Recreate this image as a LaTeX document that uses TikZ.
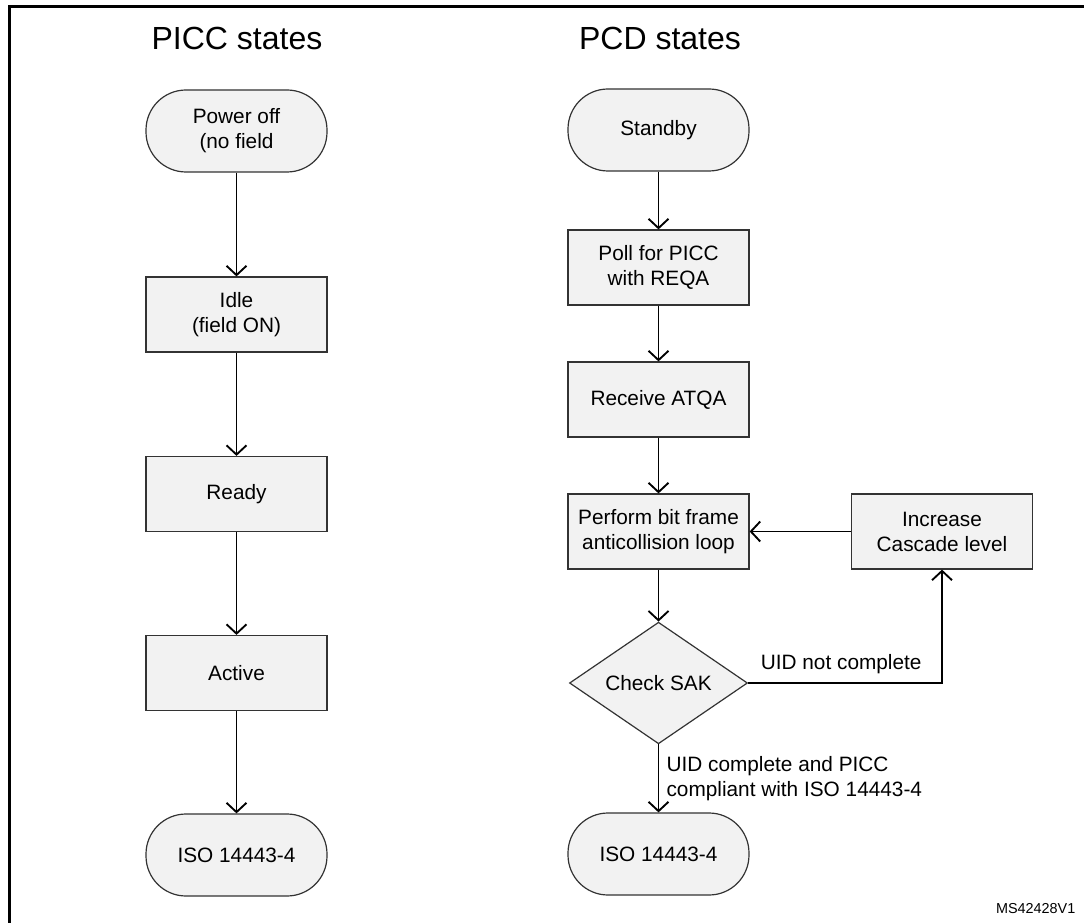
\documentclass[tikz,border=0pt]{standalone}
\usepackage{fontspec}
\setmainfont{Liberation Sans}
\usetikzlibrary{shapes.geometric,arrows.meta}
\definecolor{boxfill}{HTML}{F2F2F2}
\definecolor{boxline}{HTML}{333333}
\begin{document}
\begin{tikzpicture}[x=0.75pt,y=-0.75pt,
  nodefont/.style={font=\fontsize{15.6pt}{18.75pt}\selectfont},
  stepbox/.style={nodefont, rectangle, draw=boxline, fill=boxfill, line width=0.9pt,
    minimum width=135.75pt, minimum height=56.25pt, align=center, inner sep=0pt},
  term/.style={nodefont, rectangle, rounded corners=30pt, draw=boxline, fill=boxfill,
    line width=0.9pt, minimum width=135.75pt, minimum height=61.5pt, align=center, inner sep=0pt},
  decision/.style={nodefont, diamond, draw=boxline, fill=boxfill, line width=0.9pt,
    minimum width=133.5pt, minimum height=84pt, inner sep=0pt, align=center},
  arr/.style={line width=1.4pt, -{Straight Barb[length=7pt,width=15pt,line width=1.4pt]}},
  title/.style={font=\fontsize{24pt}{28pt}\selectfont, anchor=base},
  lbl/.style={nodefont, align=left}
]
\useasboundingbox (0,0) rectangle (1084,923);
\clip (0,0) rectangle (1084,923);
\fill[white] (0,0) rectangle (1084,923);
% outer frame (continues beyond the picture)
\draw[line width=2.25pt] (9.5,1000) |- (1100,7);

% titles
\node[title] (t1) at (237,50) {PICC states};
\node[title] (t2) at (660,50) {PCD states};

% PICC column
\node[term] (off) at (236.5,131) {Power off\\(no field};
\node[stepbox] (idle) at (236.5,314.5) {Idle\\(field ON)};
\node[stepbox] (ready) at (236.5,494) {Ready};
\node[stepbox] (active) at (236.5,673) {Active};
\node[term] (iso1) at (236.5,855) {ISO 14443-4};

\draw[arr] (off) -- (idle);
\draw[arr] (idle) -- (ready);
\draw[arr] (ready) -- (active);
\draw[arr] (active) -- (iso1);

% PCD column
\node[term] (stby) at (658.5,130) {Standby};
\node[stepbox] (poll) at (658.5,267.5) {Poll for PICC\\with REQA};
\node[stepbox] (atqa) at (658.5,399.5) {Receive ATQA};
\node[stepbox] (perf) at (658.5,531.5) {Perform bit frame\\anticollision loop};
\node[stepbox] (inc) at (942,531.5) {Increase\\Cascade level};
\node[decision] (sak) at (658.5,683) {Check SAK};
\node[term] (iso2) at (658.5,854) {ISO 14443-4};

\draw[arr] (stby) -- (poll);
\draw[arr] (poll) -- (atqa);
\draw[arr] (atqa) -- (perf);
\draw[arr] (perf) -- (sak);
\draw[arr] (inc) -- (perf);
\draw[arr] (sak.east) -| (inc.south) node[pos=0.24, above, nodefont, inner sep=6pt] (nc) {UID not complete};
\draw[arr] (sak.south) -- (iso2.north) node[midway, right, lbl, xshift=2pt] (cl) {UID complete and PICC\\compliant with ISO 14443-4};

\node[anchor=east, font=\fontsize{10.8pt}{13pt}\selectfont] (ref) at (1080,909) {MS42428V1};
\end{tikzpicture}
\end{document}
